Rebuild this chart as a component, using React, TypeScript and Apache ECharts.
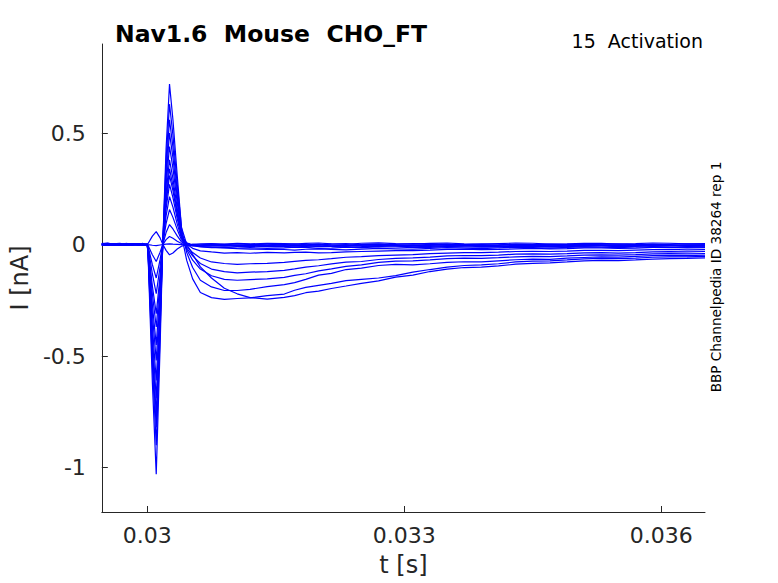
import React, { useEffect, useRef } from "react";
import * as echarts from "echarts";

// time samples [s]
const times = [
  0.02947, 0.02954, 0.0296, 0.02968, 0.02975, 0.02982, 0.0299, 0.02995, 0.03,
  0.03001, 0.03006, 0.030105, 0.03015, 0.03018, 0.03022, 0.03026, 0.0303, 0.03035,
  0.0304, 0.03046, 0.03053, 0.03062, 0.03075, 0.0309, 0.03105, 0.0312, 0.0314, 0.0316,
  0.03172, 0.03185, 0.032, 0.03215, 0.03232, 0.0325, 0.0327, 0.0329, 0.0331, 0.0333,
  0.0335, 0.0337, 0.0339, 0.0341, 0.0343, 0.0345, 0.0347, 0.0349, 0.0351, 0.0353,
  0.0355, 0.0357, 0.0359, 0.0361, 0.0363, 0.03651,
];

// current traces [nA], one per voltage step
const trace00 = [0.004, 0.007, 0.001, -0.002, -0.003, 0.003, 0.002, 0.005, 0.0,
  0.005, 0.038, 0.058, 0.03, 0.002, -0.026, -0.046, -0.038, -0.02,
  -0.007, -0.002, 0.001, 0.003, 0.004, 0.002, 0.005, 0.003, 0.006, 0.004,
  0.002, 0.005, 0.007, 0.003, 0.001, 0.006, 0.008, 0.004, 0.002, 0.005, 0.007, 0.003, 0.001, 0.004, 0.007, 0.006, 0.002, 0.003, 0.006, 0.005, 0.002, 0.004, 0.007, 0.006, 0.003, 0.004];
const trace01 = [-0.002, 0.001, 0.003, 0.005, 0.001, -0.002, -0.002, 0.0, 0.001,
  0.0, -0.003, -0.005, -0.002, 0.0, 0.002, 0.003, 0.002, 0.001,
  0.0, -0.002, 0.001, -0.001, 0.002, 0.0, 0.003, 0.001, -0.001, 0.002,
  0.003, 0.0, -0.002, 0.002, 0.004, -0.001, -0.003, 0.001, 0.004, 0.003, -0.001, 0.0, 0.003, 0.002, -0.002, -0.001, 0.002, 0.001, -0.001, 0.002, 0.003, 0.0, -0.002, 0.001, 0.003, 0.002];
const trace02 = [0.002, -0.001, -0.003, 0.001, 0.004, 0.002, 0.0, -0.003, -0.002,
  -0.004, -0.046, -0.076, -0.034, -0.001, 0.022, 0.036, 0.028, 0.015,
  0.005, -0.003, -0.006, -0.004, -0.002, 0.001, -0.003, 0.0, -0.002, 0.001,
  -0.003, -0.001, 0.002, -0.003, -0.005, 0.0, 0.002, -0.002, -0.004, 0.001, 0.002, -0.001, -0.004, -0.002, 0.001, 0.0, -0.003, -0.002, 0.001, -0.001, -0.003, 0.0, 0.001, -0.002, -0.003, -0.001];
const trace03 = [-0.004, -0.001, 0.002, 0.0, -0.001, -0.004, 0.003, 0.001, -0.001,
  -0.008, -0.09, -0.15, -0.068, -0.002, 0.054, 0.09, 0.07, 0.039,
  0.012, 0.002, -0.004, -0.006, -0.005, -0.003, -0.006, -0.004, -0.007, -0.005,
  -0.007, -0.004, -0.002, -0.006, -0.008, -0.003, -0.001, -0.005, -0.007, -0.004, -0.001, -0.002, -0.006, -0.004, -0.001, -0.003, -0.006, -0.005, -0.002, -0.002, -0.005, -0.004, -0.001, -0.003, -0.005, -0.002];
const trace04 = [0.003, 0.005, 0.0, -0.003, 0.005, 0.002, -0.002, -0.004, 0.002,
  -0.011, -0.132, -0.22, -0.099, -0.002, 0.094, 0.157, 0.122, 0.068,
  0.02, 0.004, -0.003, -0.004, -0.002, -0.005, -0.003, -0.006, -0.004, -0.007,
  -0.004, -0.005, -0.009, -0.008, -0.004, -0.006, -0.009, -0.004, -0.003, -0.006, -0.008, -0.005, -0.003, -0.007, -0.009, -0.004, -0.002, -0.006, -0.007, -0.005, -0.002, -0.003, -0.006, -0.005, -0.002, -0.004];
const trace05 = [-0.001, -0.004, 0.004, 0.002, -0.003, -0.001, 0.001, 0.003, 0.0,
  -0.016, -0.186, -0.31, -0.14, -0.003, 0.129, 0.215, 0.168, 0.092,
  0.028, 0.006, -0.002, -0.005, -0.007, -0.006, -0.008, -0.007, -0.009, -0.008,
  -0.011, -0.008, -0.006, -0.008, -0.012, -0.009, -0.005, -0.007, -0.01, -0.008, -0.005, -0.006, -0.009, -0.008, -0.004, -0.006, -0.009, -0.007, -0.004, -0.005, -0.008, -0.006, -0.003, -0.004, -0.007, -0.005];
const trace06 = [0.005, 0.002, -0.001, -0.004, 0.002, 0.004, -0.004, -0.001, 0.001,
  -0.019, -0.222, -0.37, -0.167, -0.003, 0.162, 0.27, 0.211, 0.116,
  0.035, 0.008, -0.002, -0.008, -0.012, -0.015, -0.018, -0.02, -0.022, -0.022,
  -0.025, -0.021, -0.019, -0.022, -0.024, -0.02, -0.017, -0.019, -0.021, -0.017, -0.014, -0.016, -0.018, -0.015, -0.012, -0.014, -0.016, -0.013, -0.01, -0.012, -0.014, -0.011, -0.009, -0.011, -0.013, -0.01];
const trace07 = [0.001, -0.002, -0.004, 0.001, 0.003, -0.002, 0.0, 0.003, -0.002,
  -0.023, -0.27, -0.45, -0.203, -0.005, 0.186, 0.31, 0.242, 0.133,
  0.039, 0.007, -0.005, -0.011, -0.014, -0.013, -0.016, -0.014, -0.017, -0.015,
  -0.012, -0.013, -0.017, -0.016, -0.012, -0.014, -0.01, -0.011, -0.014, -0.013, -0.009, -0.01, -0.012, -0.011, -0.007, -0.008, -0.01, -0.009, -0.006, -0.006, -0.009, -0.008, -0.004, -0.005, -0.008, -0.007];
const trace08 = [-0.003, 0.0, 0.002, -0.002, -0.001, 0.003, 0.004, 0.001, 0.0,
  -0.026, -0.312, -0.52, -0.234, -0.006, 0.204, 0.34, 0.265, 0.146,
  0.041, 0.002, -0.017, -0.028, -0.033, -0.038, -0.036, -0.039, -0.035, -0.037,
  -0.035, -0.034, -0.037, -0.036, -0.033, -0.031, -0.029, -0.027, -0.027, -0.025, -0.022, -0.021, -0.023, -0.022, -0.019, -0.017, -0.019, -0.018, -0.015, -0.015, -0.017, -0.016, -0.013, -0.013, -0.015, -0.014];
const trace09 = [0.002, 0.004, 0.0, -0.002, -0.004, -0.001, 0.001, -0.002, 0.003,
  -0.031, -0.366, -0.61, -0.275, -0.007, 0.228, 0.38, 0.296, 0.163,
  0.044, -0.007, -0.036, -0.06, -0.078, -0.085, -0.089, -0.086, -0.084, -0.08,
  -0.075, -0.071, -0.068, -0.063, -0.057, -0.054, -0.05, -0.047, -0.045, -0.041, -0.038, -0.036, -0.036, -0.034, -0.031, -0.03, -0.031, -0.029, -0.026, -0.026, -0.027, -0.025, -0.023, -0.022, -0.024, -0.023];
const trace10 = [-0.002, 0.001, 0.003, 0.0, 0.0, 0.002, -0.003, -0.001, 0.001,
  -0.035, -0.414, -0.69, -0.31, -0.007, 0.264, 0.44, 0.343, 0.189,
  0.049, -0.015, -0.051, -0.085, -0.11, -0.121, -0.127, -0.124, -0.121, -0.116,
  -0.109, -0.101, -0.095, -0.087, -0.079, -0.076, -0.067, -0.062, -0.06, -0.056, -0.051, -0.049, -0.05, -0.047, -0.043, -0.042, -0.043, -0.041, -0.037, -0.036, -0.038, -0.036, -0.033, -0.032, -0.033, -0.031];
const trace11 = [0.004, 0.001, -0.002, 0.001, 0.002, -0.002, 0.0, 0.003, -0.001,
  -0.038, -0.456, -0.76, -0.342, -0.008, 0.3, 0.5, 0.39, 0.215,
  0.055, -0.022, -0.07, -0.11, -0.14, -0.156, -0.16, -0.157, -0.154, -0.147,
  -0.138, -0.131, -0.118, -0.109, -0.098, -0.091, -0.08, -0.074, -0.073, -0.069, -0.063, -0.061, -0.062, -0.059, -0.055, -0.053, -0.054, -0.051, -0.047, -0.046, -0.047, -0.045, -0.042, -0.041, -0.042, -0.04];
const trace12 = [-0.001, -0.003, 0.002, 0.004, -0.002, 0.001, 0.003, -0.001, 0.0,
  -0.041, -0.492, -0.82, -0.369, -0.008, 0.336, 0.56, 0.437, 0.241,
  0.043, -0.07, -0.154, -0.215, -0.238, -0.246, -0.242, -0.239, -0.229, -0.222,
  -0.205, -0.192, -0.183, -0.174, -0.162, -0.156, -0.15, -0.139, -0.124, -0.112, -0.101, -0.094, -0.091, -0.086, -0.078, -0.074, -0.073, -0.069, -0.064, -0.062, -0.063, -0.061, -0.057, -0.055, -0.055, -0.053];
const trace13 = [0.003, 0.0, -0.003, -0.001, 0.001, 0.003, -0.001, 0.002, 0.002,
  -0.045, -0.54, -0.9, -0.405, -0.008, 0.378, 0.63, 0.491, 0.271,
  0.077, 0.002, -0.044, -0.1, -0.15, -0.196, -0.221, -0.238, -0.245, -0.237,
  -0.229, -0.216, -0.209, -0.197, -0.186, -0.174, -0.163, -0.146, -0.137, -0.121, -0.11, -0.103, -0.101, -0.096, -0.088, -0.084, -0.082, -0.078, -0.073, -0.071, -0.072, -0.069, -0.065, -0.063, -0.062, -0.06];
const trace14 = [0.0, 0.002, 0.004, 0.001, -0.002, -0.001, 0.002, 0.0, -0.003,
  -0.05, -0.62, -1.03, -0.46, -0.01, 0.43, 0.72, 0.56, 0.31,
  0.074, -0.035, -0.103, -0.16, -0.19, -0.206, -0.206, -0.201, -0.189, -0.18,
  -0.171, -0.156, -0.137, -0.129, -0.112, -0.106, -0.094, -0.089, -0.091, -0.086, -0.08, -0.077, -0.078, -0.073, -0.068, -0.065, -0.066, -0.061, -0.058, -0.055, -0.056, -0.053, -0.05, -0.049, -0.05, -0.047];

const traces = [trace00, trace01, trace02, trace03, trace04, trace05, trace06, trace07, trace08, trace09, trace10, trace11, trace12, trace13, trace14];

const xTicks = [0.03, 0.033, 0.036];
const xTickLabels = ["0.03", "0.033", "0.036"];
const yTicks = [-1, -0.5, 0, 0.5];
const yTickLabels = ["-1", "-0.5", "0", "0.5"];

const FONT = '"DejaVu Sans", "Liberation Sans", sans-serif';
const AXIS_COLOR = "#262626";

function labelFor(v: number, ticks: number[], labels: string[]): string {
  for (let i = 0; i < ticks.length; i++) {
    if (Math.abs(v - ticks[i]) < 1e-9) return labels[i];
  }
  return "";
}

export default function App() {
  const ref = useRef<HTMLDivElement>(null);
  useEffect(() => {
    if (!ref.current) return;
    const chart = echarts.init(ref.current, null, { renderer: "svg" });
    chart.setOption({
      animation: false,
      backgroundColor: "#ffffff",
      grid: { left: 101, right: 73, top: 44, bottom: 71, containLabel: false },
      xAxis: {
        type: "value",
        min: 0.02947,
        max: 0.03651,
        name: "t [s]",
        nameLocation: "middle",
        nameGap: 41,
        nameTextStyle: { fontSize: 24, color: AXIS_COLOR, fontFamily: FONT },
        axisLine: { show: true, onZero: false, lineStyle: { color: AXIS_COLOR, width: 1 } },
        axisTick: { show: true, inside: true, length: 6, customValues: xTicks, lineStyle: { color: AXIS_COLOR } },
        axisLabel: {
          customValues: xTicks,
          formatter: (v: number) => labelFor(v, xTicks, xTickLabels),
          fontSize: 22,
          color: AXIS_COLOR,
          fontFamily: FONT,
          margin: 12,
        },
        splitLine: { show: false },
      },
      yAxis: {
        type: "value",
        min: -1.2,
        max: 0.9,
        name: "I [nA]",
        nameLocation: "middle",
        nameGap: 58,
        nameTextStyle: { fontSize: 24, color: AXIS_COLOR, fontFamily: FONT },
        axisLine: { show: true, onZero: false, lineStyle: { color: AXIS_COLOR, width: 1 } },
        axisTick: { show: true, inside: true, length: 6, customValues: yTicks, lineStyle: { color: AXIS_COLOR } },
        axisLabel: {
          customValues: yTicks,
          formatter: (v: number) => labelFor(v, yTicks, yTickLabels),
          fontSize: 22,
          color: AXIS_COLOR,
          fontFamily: FONT,
          margin: 16,
        },
        splitLine: { show: false },
      },
      graphic: [
        {
          type: "text",
          x: 115,
          y: 34,
          style: {
            text: "Nav1.6  Mouse  CHO_FT",
            fontSize: 23.5,
            fontWeight: "bold",
            fontFamily: FONT,
            fill: "#000000",
            align: "left",
            verticalAlign: "middle",
          },
        },
        {
          type: "text",
          x: 703,
          y: 41,
          style: {
            text: "15  Activation",
            fontSize: 19,
            fontFamily: FONT,
            fill: "#000000",
            align: "right",
            verticalAlign: "middle",
          },
        },
        {
          type: "text",
          x: 716,
          y: 277,
          rotation: Math.PI / 2,
          style: {
            text: "BBP Channelpedia ID 38264 rep 1",
            fontSize: 13.6,
            fontFamily: FONT,
            fill: "#000000",
            align: "center",
            verticalAlign: "middle",
          },
        },
      ],
      series: traces.map((tr, i) => ({
        name: "trace" + i,
        type: "line",
        data: times.map((t, j) => [t, tr[j]]),
        showSymbol: false,
        symbol: "none",
        silent: true,
        clip: true,
        lineStyle: { color: "#0000ff", width: 1.2 },
        itemStyle: { color: "#0000ff" },
      })),
    });
    return () => chart.dispose();
  }, []);
  return <div ref={ref} style={{ position: "fixed", left: 0, top: 0, width: 778, height: 583 }} />;
}
